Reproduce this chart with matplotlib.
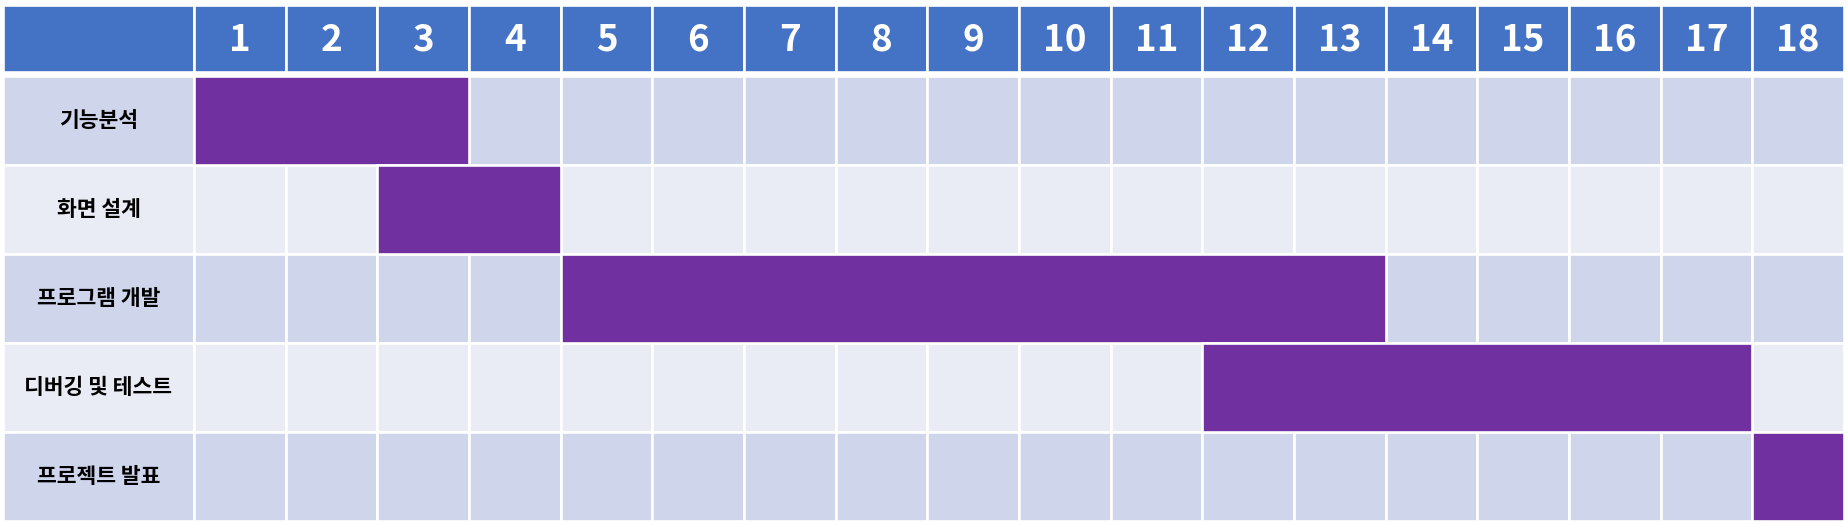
import matplotlib
matplotlib.use("Agg")
import matplotlib.pyplot as plt
from matplotlib.patches import Rectangle

plt.rcParams['font.family'] = ['Noto Sans CJK KR', 'DejaVu Sans']

# ---- data ----
tasks = ["기능분석", "화면 설계", "프로그램 개발", "디버깅 및 테스트", "프로젝트 발표"]
start_week = [1, 3, 5, 12, 18]
end_week = [3, 4, 13, 17, 18]
weeks = list(range(1, 19))

# ---- style ----
HEADER = "#4472C4"
ROW_DARK = "#CFD5EA"
ROW_LIGHT = "#E9EBF5"
BAR = "#7030A0"

W, H = 1849, 524
fig = plt.figure(figsize=(W / 100, H / 100), dpi=100)
fig.patch.set_facecolor("white")

left_px, right_px = 3, 1844
top_px, bot_px = 4.5, 521
ax = fig.add_axes([left_px / W, (H - bot_px) / H, (right_px - left_px) / W, (bot_px - top_px) / H])

n_weeks = len(weeks)
col_px = (right_px - 194) / n_weeks
label_w = (194 - left_px) / col_px          # label column width in week units
row_px = 88.4
header_h = 67 / row_px
header_gap = 4 / row_px
n_rows = len(tasks)

ax.set_xlim(-label_w, n_weeks)
ax.set_ylim(n_rows, -header_h - header_gap)
ax.axis("off")

lw = 1.9
# header
hy = -header_h - header_gap
ax.add_patch(Rectangle((-label_w, hy), label_w, header_h, facecolor=HEADER, edgecolor="white", lw=lw))
for w in weeks:
    ax.add_patch(Rectangle((w - 1, hy), 1, header_h, facecolor=HEADER, edgecolor="white", lw=lw))
    ax.text(w - 0.5, hy + header_h / 2 + 0.02, str(w), color="white", fontsize=26.5, fontweight="bold",
            ha="center", va="center")

# rows
for i, name in enumerate(tasks):
    c = ROW_DARK if i % 2 == 0 else ROW_LIGHT
    ax.add_patch(Rectangle((-label_w, i), label_w, 1, facecolor=c, edgecolor="white", lw=lw))
    ax.text(-label_w / 2, i + 0.5, name, color="black", fontsize=15.5, fontweight="bold",
            ha="center", va="center")
    for w in weeks:
        ax.add_patch(Rectangle((w - 1, i), 1, 1, facecolor=c, edgecolor="white", lw=lw))

# bars
ax.barh([i + 0.5 for i in range(n_rows)],
        [e - s + 1 for s, e in zip(start_week, end_week)],
        left=[s - 1 for s in start_week], height=1.0,
        color=BAR, edgecolor="white", linewidth=lw, zorder=3)

fig.savefig("out.png", dpi=100, facecolor="white")
